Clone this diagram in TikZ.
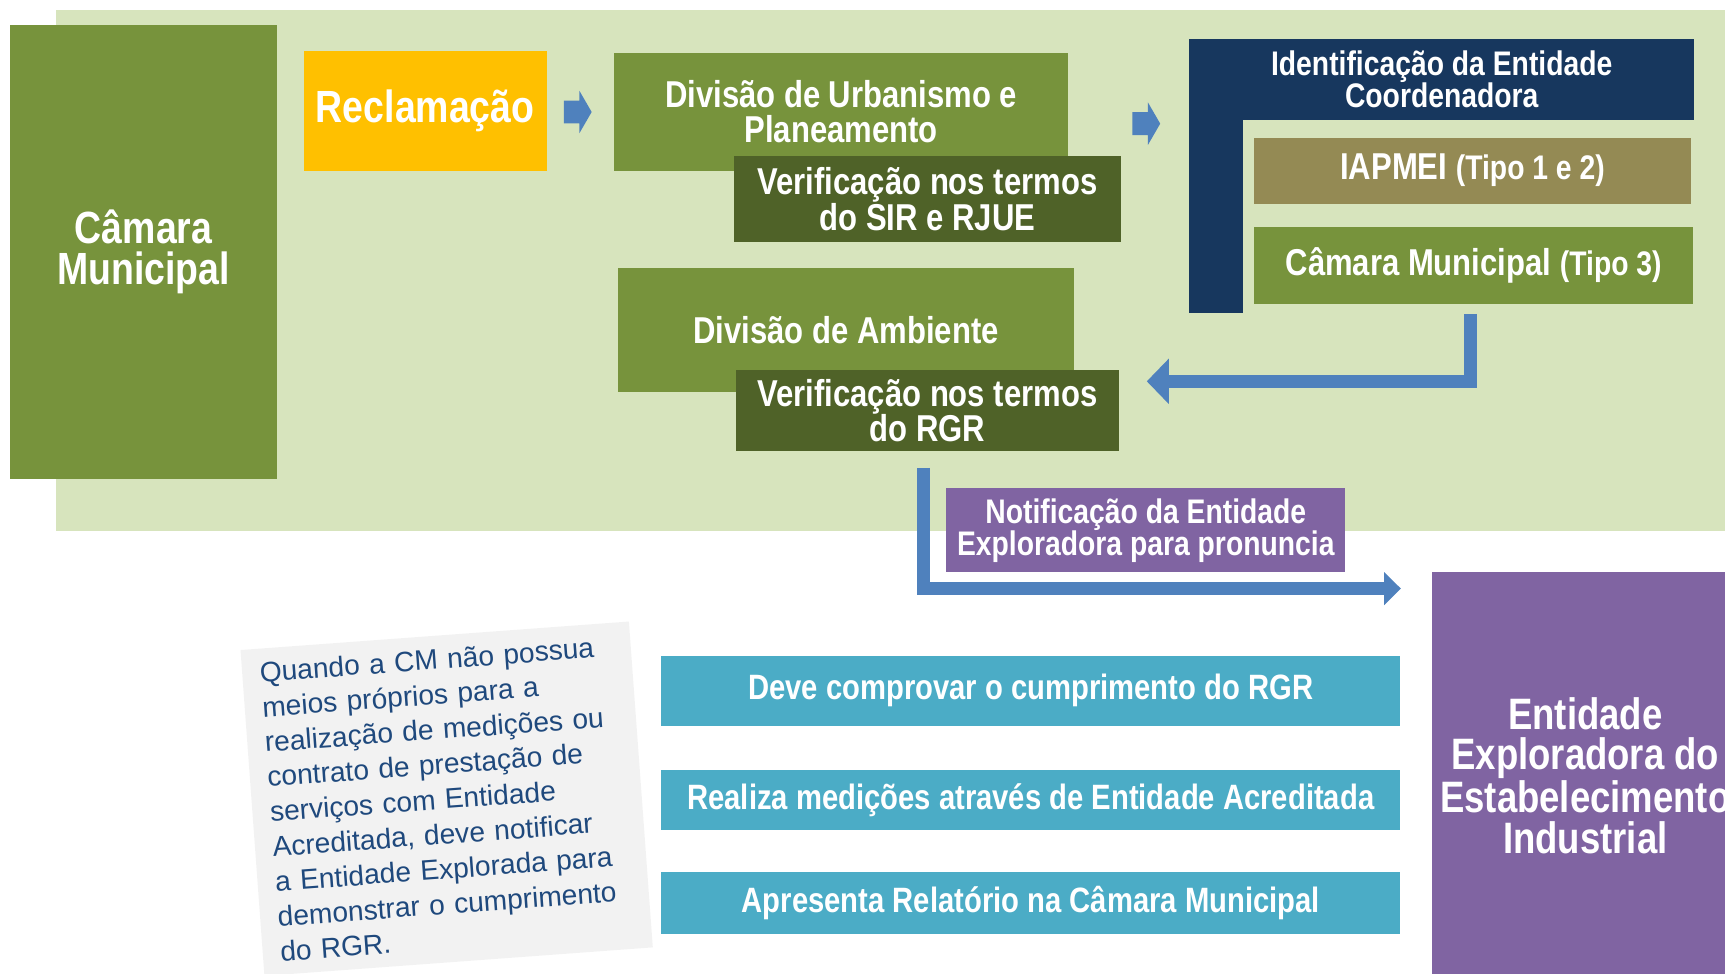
\documentclass[tikz,border=0pt]{standalone}
\usepackage{fontspec}
\setmainfont{Liberation Sans}[FakeStretch=0.83]
\newfontfamily\notefont{Liberation Sans}
\usetikzlibrary{arrows.meta,shapes.arrows}

\definecolor{bggreen}{HTML}{D7E4BD}
\definecolor{olive}{HTML}{77933C}
\definecolor{darkolive}{HTML}{4F6228}
\definecolor{navy}{HTML}{17375E}
\definecolor{khaki}{HTML}{948A54}
\definecolor{amber}{HTML}{FFC000}
\definecolor{arrowblue}{HTML}{4F81BD}
\definecolor{violet}{HTML}{8064A2}
\definecolor{tealbox}{HTML}{4BACC6}
\definecolor{notegrey}{HTML}{F2F2F2}
\definecolor{noteblue}{HTML}{1F497D}

\newcommand\boxtext{\bfseries\fontsize{17}{16}\selectfont}
\newcommand\bigtext{\bfseries\fontsize{20.5}{18.5}\selectfont}
\newcommand\midtext{\bfseries\fontsize{15.5}{14.5}\selectfont}
\newcommand\tiptext{\fontsize{15.5}{14.5}\selectfont}
\newcommand\tealtext{\bfseries\fontsize{16}{16}\selectfont}
\newcommand\enttext{\bfseries\fontsize{20}{18.5}\selectfont}

\begin{document}
\begin{tikzpicture}
  [x=1pt,y=-1pt,
   panel/.style={fill=#1,text=white,inner sep=0pt,align=center,font=\boxtext},
   blockarrow/.style={single arrow,fill=arrowblue,inner xsep=0pt,inner ysep=5pt,
     minimum height=12.6pt,single arrow head extend=4.45pt,single arrow tip angle=120},
   flow/.style={draw=arrowblue,line width=6pt}]
  \useasboundingbox (0,0) rectangle (784,442.5);
  \fill[bggreen] (25.5,4.5) rectangle (784,241.4);

  \node (camara) at (65.25,114.5) [panel=olive,minimum width=121.5pt,minimum height=206pt,font=\bigtext] {Câmara\\Municipal};
  \node (recl) at (193.25,50.25) [panel=amber,minimum width=110.5pt,minimum height=54.5pt,font=\bigtext] {Reclamação};

  \node (urb) at (382.25,50.75) [panel=olive,minimum width=206.5pt,minimum height=53.5pt] {Divisão de Urbanismo e\\Planeamento};
  \node (sir) at (421.5,90.5) [panel=darkolive,minimum width=176pt,minimum height=39pt] {Verificação nos termos\\do SIR e RJUE};

  \node (amb) at (384.5,150) [panel=olive,minimum width=207pt,minimum height=56pt] {Divisão de Ambiente};
  \node (rgr) at (421.5,186.5) [panel=darkolive,minimum width=174pt,minimum height=37pt] {Verificação nos termos\\do RGR};

  \node (ident) at (655.25,36) [panel=navy,minimum width=229.5pt,minimum height=37pt,font=\midtext] {Identificação da Entidade\\Coordenadora};
  \fill[navy] (ident.south west) rectangle ++(24.5,87.5);
  \node (iapmei) at (669.25,77.5) [panel=khaki,minimum width=198.5pt,minimum height=30pt] {IAPMEI {\tiptext(Tipo 1 e 2)}};
  \node (cm3) at (669.75,120.5) [panel=olive,minimum width=199.5pt,minimum height=35pt] {Câmara Municipal {\tiptext(Tipo 3)}};

  \node (notif) at (520.75,241) [panel=violet,minimum width=181.5pt,minimum height=38pt,font=\midtext] {Notificação da Entidade\\Exploradora para pronuncia};
  \node (ent) at (720.5,352.5) [panel=violet,minimum width=139pt,minimum height=185pt,font=\enttext] {Entidade\\Exploradora do\\Estabelecimento\\Industrial};

  \node (t1) at (468.5,314) [panel=tealbox,minimum width=336pt,minimum height=32pt,font=\tealtext] {Deve comprovar o cumprimento do RGR};
  \node (t2) at (468.5,363.5) [panel=tealbox,minimum width=336pt,minimum height=27pt,font=\tealtext] {Realiza medições através de Entidade Acreditada};
  \node (t3) at (468.5,410.5) [panel=tealbox,minimum width=336pt,minimum height=28pt,font=\tealtext] {Apresenta Relatório na Câmara Municipal};

  \node (note) at (203,363) [fill=notegrey,text=noteblue,rotate=4.2,inner sep=0pt,
    minimum width=177pt,minimum height=148.5pt,text width=161pt,align=left,
    font=\notefont\fontsize{12.8}{15.9}\selectfont]
    {Quando a CM não possua\\meios próprios para a\\realização de medições ou\\contrato de prestação de\\serviços com Entidade\\Acreditada, deve notificar\\a Entidade Explorada para\\demonstrar o cumprimento\\do RGR.};

  % arrows
  \node (push1) at (261.1,50.9) [blockarrow] {};
  \node (push2) at (519.5,56.2) [blockarrow] {};

  \coordinate (backtip) at (521.2,173.3);
  \coordinate (enttip) at (636.7,267.5);
  \draw[flow,-{Triangle[length=10pt,width=20pt]}] ([xshift=-1.5pt,yshift=-4.4pt]cm3.south) |- (backtip);
  \draw[flow,-{Triangle[length=7.6pt,width=14.5pt]}] ([xshift=-1.8pt,yshift=-7.4pt]rgr.south) |- (enttip);
\end{tikzpicture}
\end{document}
